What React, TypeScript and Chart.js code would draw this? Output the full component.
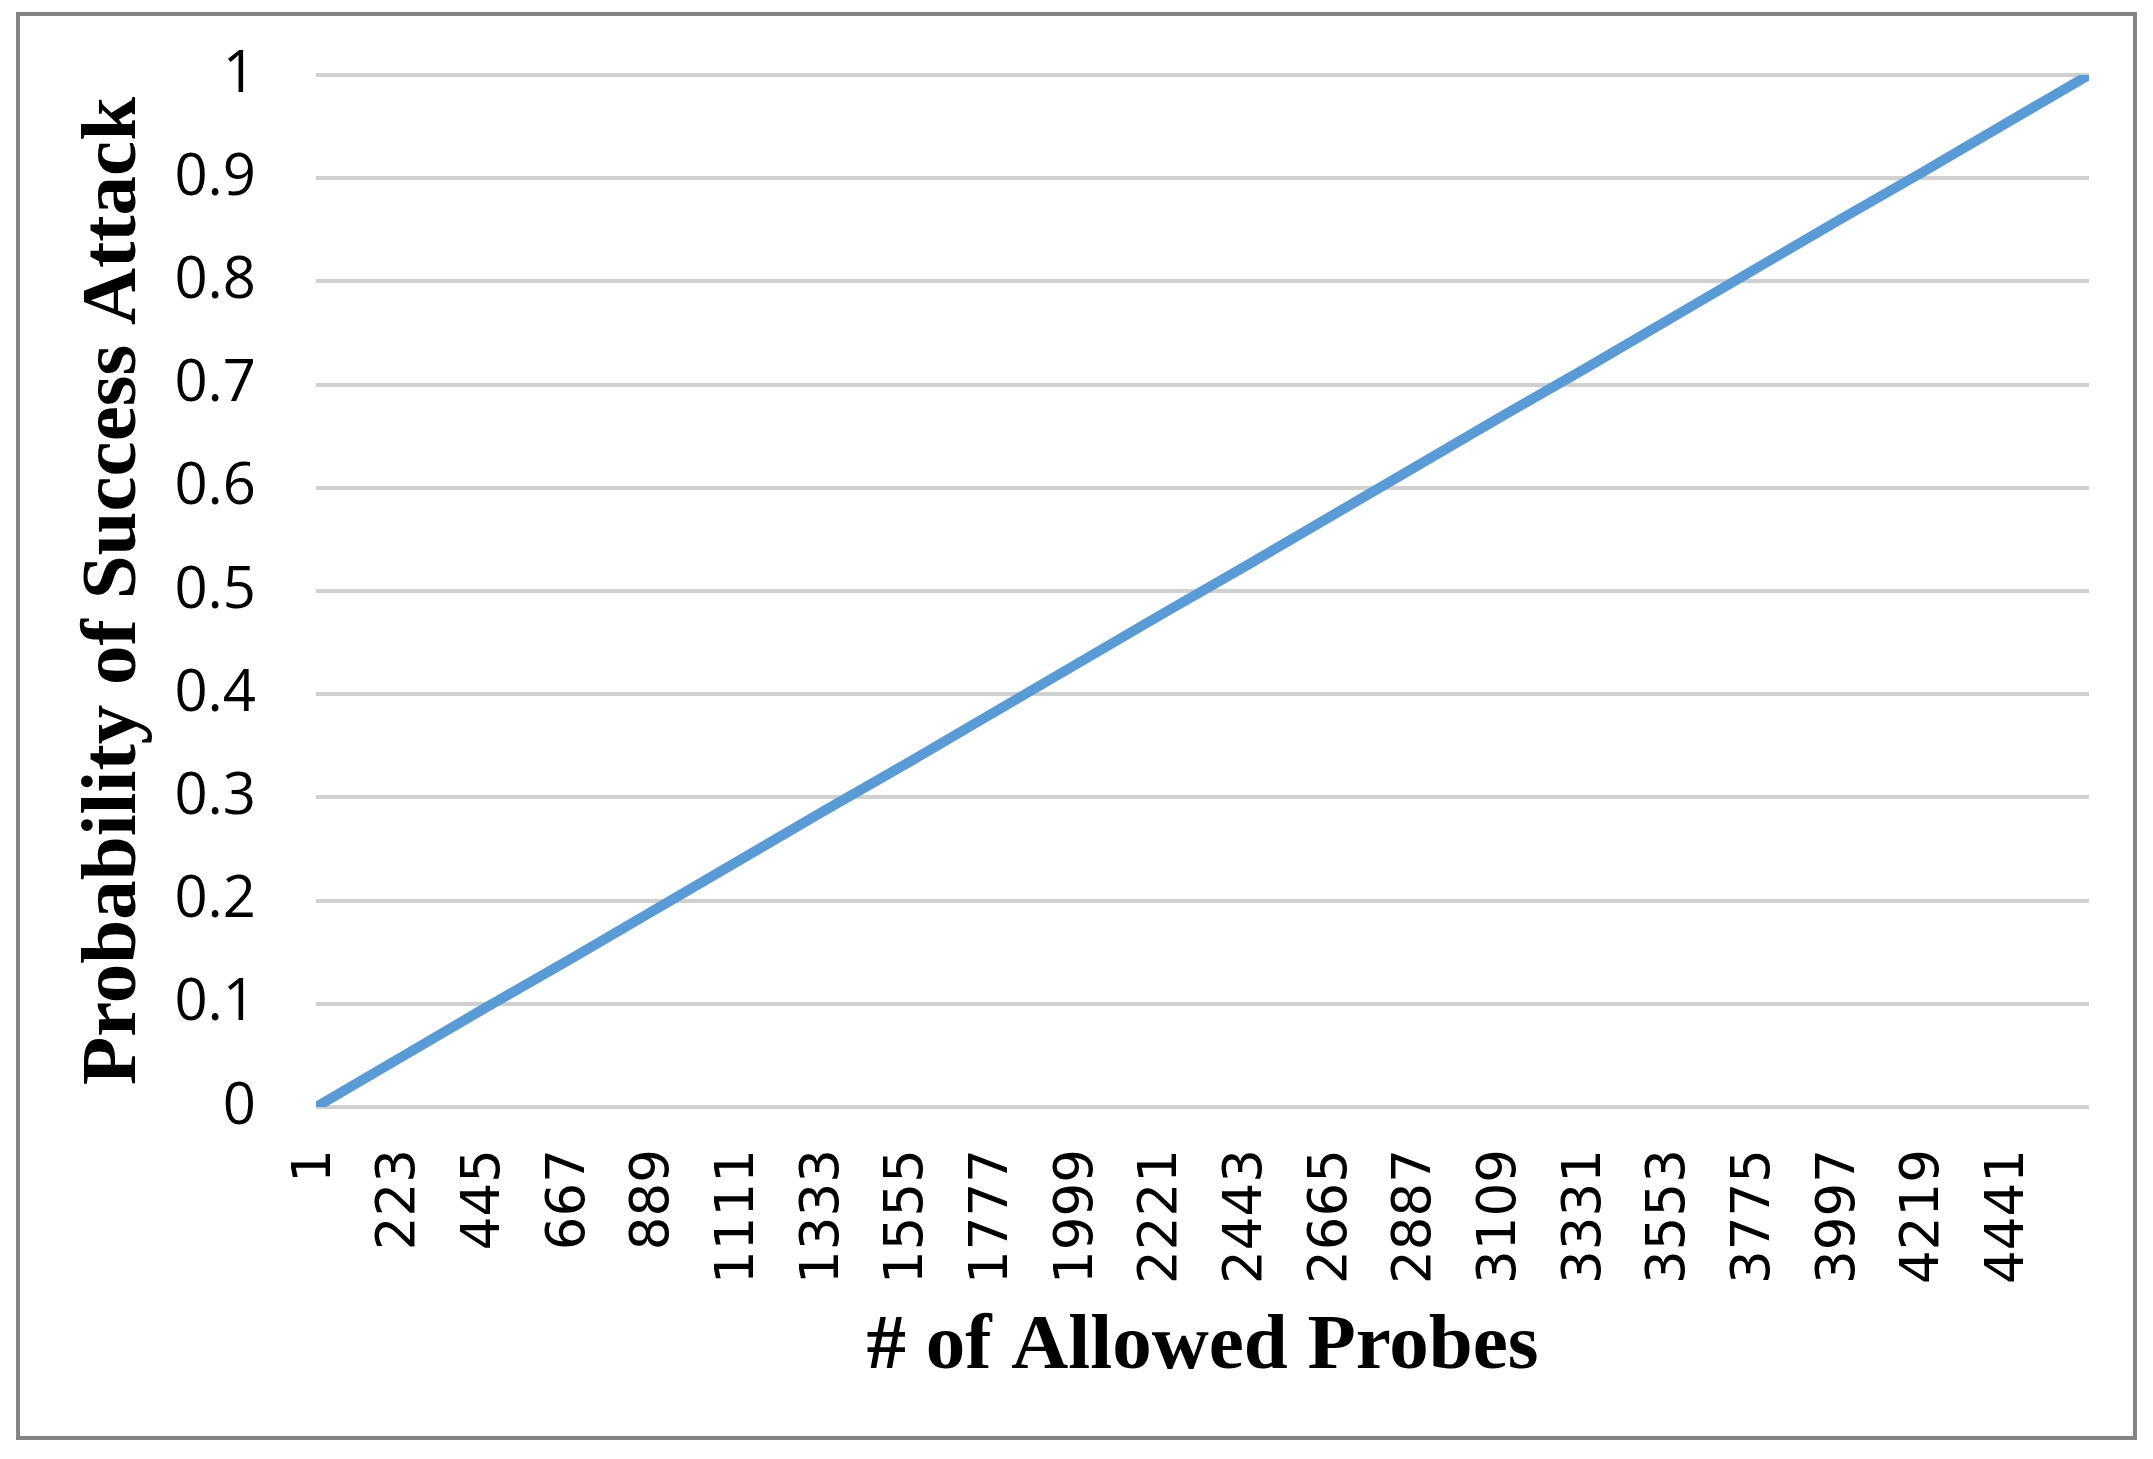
import React, { useEffect, useRef } from "react";
import { Chart, registerables } from "chart.js";

Chart.register(...registerables);

// ---- data ----
const probes = [1, 223, 445, 667, 889, 1111, 1333, 1555, 1777, 1999, 2221, 2443, 2665, 2887, 3109, 3331, 3553, 3775, 3997, 4219, 4441, 4650];
const successProbability = [0, 0.048, 0.096, 0.143, 0.191, 0.239, 0.287, 0.334, 0.382, 0.43, 0.478, 0.525, 0.573, 0.621, 0.669, 0.716, 0.764, 0.812, 0.86, 0.907, 0.955, 1];
const xTickLabels = [1, 223, 445, 667, 889, 1111, 1333, 1555, 1777, 1999, 2221, 2443, 2665, 2887, 3109, 3331, 3553, 3775, 3997, 4219, 4441];
const yTickValues = [0, 0.1, 0.2, 0.3, 0.4, 0.5, 0.6, 0.7, 0.8, 0.9, 1];
const xAxisTitle = "# of Allowed Probes";
const yAxisTitle = "Probability of Success Attack";
const xMin = 1;
const xMax = 4650;

export default function App() {
  const canvasRef = useRef<HTMLCanvasElement | null>(null);

  useEffect(() => {
    if (!canvasRef.current) return;
    const titleFont = { family: "'Liberation Serif', 'Times New Roman', serif", weight: "bold" as const, size: 79 };
    const chart = new Chart(canvasRef.current, {
      type: "line",
      data: {
        datasets: [
          {
            data: probes.map((p, i) => ({ x: p, y: successProbability[i] })),
            borderColor: "#5B9BD5",
            borderWidth: 10,
            pointRadius: 0,
            tension: 0,
            fill: false,
          },
        ],
      },
      options: {
        animation: false,
        responsive: true,
        maintainAspectRatio: false,
        layout: { padding: { top: 59, right: 44, left: 0, bottom: 0 } },
        plugins: { legend: { display: false }, tooltip: { enabled: false } },
        scales: {
          x: {
            type: "linear",
            min: xMin,
            max: xMax,
            grid: { display: false, drawTicks: false },
            border: { display: false },
            afterBuildTicks: (s: any) => {
              s.ticks = xTickLabels.map((v) => ({ value: v }));
            },
            afterFit: (s: any) => {
              s.height = 329;
            },
            ticks: {
              autoSkip: false,
              minRotation: 90,
              maxRotation: 90,
              padding: 42,
              color: "#000",
              font: { family: "'DejaVu Sans', sans-serif", size: 53 },
              callback: (v: any) => String(v),
            },
            title: {
              display: true,
              text: xAxisTitle,
              color: "#000",
              font: titleFont,
              padding: { top: 0, bottom: 41 },
            },
          },
          y: {
            type: "linear",
            min: 0,
            max: 1,
            afterBuildTicks: (s: any) => {
              s.ticks = yTickValues.map((v) => ({ value: v }));
            },
            afterFit: (s: any) => {
              s.width = 296;
              s.paddingTop = 0;
              s.paddingBottom = 0;
            },
            grid: { color: "#D0D0D0", lineWidth: 4, drawTicks: false },
            border: { display: false },
            ticks: {
              padding: 60,
              color: "#000",
              font: { family: "'Open Sans', sans-serif", size: 58 },
              callback: (v: any) => String(v),
            },
            title: {
              display: true,
              text: yAxisTitle,
              color: "#000",
              font: titleFont,
              padding: { top: 47, bottom: 0 },
            },
          },
        },
      },
    });
    return () => chart.destroy();
  }, []);

  return (
    <div
      style={{
        position: "fixed",
        left: 16,
        top: 12,
        width: 2121,
        height: 1428,
        boxSizing: "border-box",
        border: "4px solid #858585",
        background: "#fff",
      }}
    >
      <div style={{ position: "relative", width: 2113, height: 1420 }}>
        <canvas ref={canvasRef} />
      </div>
    </div>
  );
}
